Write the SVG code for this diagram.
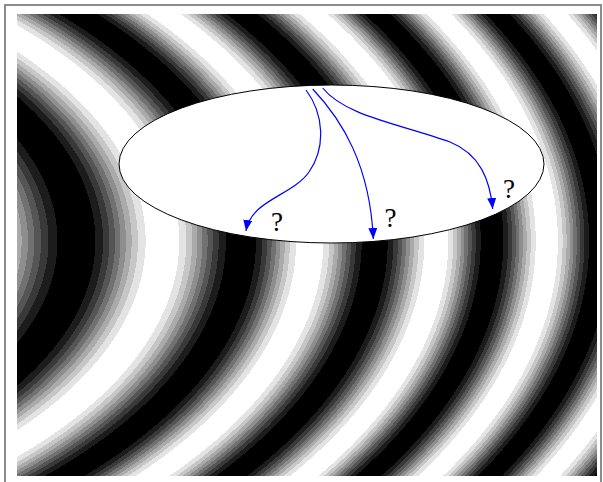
<svg xmlns="http://www.w3.org/2000/svg" width="603" height="482" viewBox="0 0 603 482">
<style>
.l0{stop-color:#000000}.l1{stop-color:#1c1c1c}.l2{stop-color:#393939}.l3{stop-color:#555555}.l4{stop-color:#717171}
.l5{stop-color:#8e8e8e}.l6{stop-color:#aaaaaa}.l7{stop-color:#c6c6c6}.l8{stop-color:#e3e3e3}.l9{stop-color:#ffffff}
.frame{fill:none;stroke:#8c8c8c;stroke-width:2}
.arrow{fill:none;stroke:#0000ff;stroke-width:1.2;marker-end:url(#ah)}
.q{font-family:"Liberation Serif","DejaVu Serif",serif;font-size:27px;fill:#000;text-anchor:middle}
</style>
<defs>
<marker id="ah" markerUnits="userSpaceOnUse" viewBox="0 0 11 9" refX="11" refY="4.5" markerWidth="11" markerHeight="9" orient="auto">
<path d="M0,0 L11,4.5 L0,9 z" fill="#0000ff"/>
</marker>
<radialGradient id="waves" gradientUnits="userSpaceOnUse" cx="-500" cy="241" r="1250" fx="-500" fy="241" gradientTransform="matrix(1 0 0 0.49 0 122.91)">
<stop offset="0" class="l9"/>
<stop offset=".3988" class="l9"/><stop offset=".3988" class="l8"/>
<stop offset=".406" class="l8"/><stop offset=".406" class="l7"/>
<stop offset=".41192" class="l7"/><stop offset=".41192" class="l6"/>
<stop offset=".41728" class="l6"/><stop offset=".41728" class="l5"/>
<stop offset=".4224" class="l5"/><stop offset=".4224" class="l4"/>
<stop offset=".42752" class="l4"/><stop offset=".42752" class="l3"/>
<stop offset=".43288" class="l3"/><stop offset=".43288" class="l2"/>
<stop offset=".4388" class="l2"/><stop offset=".4388" class="l1"/>
<stop offset=".446" class="l1"/><stop offset=".446" class="l0"/>
<stop offset=".47632" class="l0"/><stop offset=".47632" class="l1"/>
<stop offset=".48248" class="l1"/><stop offset=".48248" class="l2"/>
<stop offset=".48752" class="l2"/><stop offset=".48752" class="l3"/>
<stop offset=".49208" class="l3"/><stop offset=".49208" class="l4"/>
<stop offset=".4964" class="l4"/><stop offset=".4964" class="l5"/>
<stop offset=".50072" class="l5"/><stop offset=".50072" class="l6"/>
<stop offset=".50528" class="l6"/><stop offset=".50528" class="l7"/>
<stop offset=".51032" class="l7"/><stop offset=".51032" class="l8"/>
<stop offset=".51648" class="l8"/><stop offset=".51648" class="l9"/>
<stop offset=".54336" class="l9"/><stop offset=".54336" class="l8"/>
<stop offset=".54904" class="l8"/><stop offset=".54904" class="l7"/>
<stop offset=".55376" class="l7"/><stop offset=".55376" class="l6"/>
<stop offset=".55792" class="l6"/><stop offset=".55792" class="l5"/>
<stop offset=".562" class="l5"/><stop offset=".562" class="l4"/>
<stop offset=".56608" class="l4"/><stop offset=".56608" class="l3"/>
<stop offset=".57024" class="l3"/><stop offset=".57024" class="l2"/>
<stop offset=".57496" class="l2"/><stop offset=".57496" class="l1"/>
<stop offset=".58064" class="l1"/><stop offset=".58064" class="l0"/>
<stop offset=".60472" class="l0"/><stop offset=".60472" class="l1"/>
<stop offset=".60968" class="l1"/><stop offset=".60968" class="l2"/>
<stop offset=".61368" class="l2"/><stop offset=".61368" class="l3"/>
<stop offset=".61728" class="l3"/><stop offset=".61728" class="l4"/>
<stop offset=".6208" class="l4"/><stop offset=".6208" class="l5"/>
<stop offset=".62432" class="l5"/><stop offset=".62432" class="l6"/>
<stop offset=".62792" class="l6"/><stop offset=".62792" class="l7"/>
<stop offset=".63192" class="l7"/><stop offset=".63192" class="l8"/>
<stop offset=".63688" class="l8"/><stop offset=".63688" class="l9"/>
<stop offset=".65864" class="l9"/><stop offset=".65864" class="l8"/>
<stop offset=".66336" class="l8"/><stop offset=".66336" class="l7"/>
<stop offset=".6672" class="l7"/><stop offset=".6672" class="l6"/>
<stop offset=".67064" class="l6"/><stop offset=".67064" class="l5"/>
<stop offset=".674" class="l5"/><stop offset=".674" class="l4"/>
<stop offset=".67736" class="l4"/><stop offset=".67736" class="l3"/>
<stop offset=".6808" class="l3"/><stop offset=".6808" class="l2"/>
<stop offset=".68464" class="l2"/><stop offset=".68464" class="l1"/>
<stop offset=".68936" class="l1"/><stop offset=".68936" class="l0"/>
<stop offset=".71016" class="l0"/><stop offset=".71016" class="l1"/>
<stop offset=".71464" class="l1"/><stop offset=".71464" class="l2"/>
<stop offset=".71832" class="l2"/><stop offset=".71832" class="l3"/>
<stop offset=".7216" class="l3"/><stop offset=".7216" class="l4"/>
<stop offset=".7248" class="l4"/><stop offset=".7248" class="l5"/>
<stop offset=".728" class="l5"/><stop offset=".728" class="l6"/>
<stop offset=".73128" class="l6"/><stop offset=".73128" class="l7"/>
<stop offset=".73496" class="l7"/><stop offset=".73496" class="l8"/>
<stop offset=".73944" class="l8"/><stop offset=".73944" class="l9"/>
<stop offset=".75864" class="l9"/><stop offset=".75864" class="l8"/>
<stop offset=".76256" class="l8"/><stop offset=".76256" class="l7"/>
<stop offset=".76584" class="l7"/><stop offset=".76584" class="l6"/>
<stop offset=".7688" class="l6"/><stop offset=".7688" class="l5"/>
<stop offset=".7716" class="l5"/><stop offset=".7716" class="l4"/>
<stop offset=".7744" class="l4"/><stop offset=".7744" class="l3"/>
<stop offset=".77736" class="l3"/><stop offset=".77736" class="l2"/>
<stop offset=".78064" class="l2"/><stop offset=".78064" class="l1"/>
<stop offset=".78456" class="l1"/><stop offset=".78456" class="l0"/>
<stop offset=".80264" class="l0"/><stop offset=".80264" class="l1"/>
<stop offset=".80656" class="l1"/><stop offset=".80656" class="l2"/>
<stop offset=".80984" class="l2"/><stop offset=".80984" class="l3"/>
<stop offset=".8128" class="l3"/><stop offset=".8128" class="l4"/>
<stop offset=".8156" class="l4"/><stop offset=".8156" class="l5"/>
<stop offset=".8184" class="l5"/><stop offset=".8184" class="l6"/>
<stop offset=".82136" class="l6"/><stop offset=".82136" class="l7"/>
<stop offset=".82464" class="l7"/><stop offset=".82464" class="l8"/>
<stop offset=".82856" class="l8"/><stop offset=".82856" class="l9"/>
<stop offset=".84632" class="l9"/><stop offset=".84632" class="l8"/>
<stop offset=".85008" class="l8"/><stop offset=".85008" class="l7"/>
<stop offset=".85328" class="l7"/><stop offset=".85328" class="l6"/>
<stop offset=".85608" class="l6"/><stop offset=".85608" class="l5"/>
<stop offset=".8588" class="l5"/><stop offset=".8588" class="l4"/>
<stop offset=".86152" class="l4"/><stop offset=".86152" class="l3"/>
<stop offset=".86432" class="l3"/><stop offset=".86432" class="l2"/>
<stop offset=".86752" class="l2"/><stop offset=".86752" class="l1"/>
<stop offset=".87128" class="l1"/><stop offset=".87128" class="l0"/>
<stop offset=".88872" class="l0"/><stop offset=".88872" class="l1"/>
<stop offset=".89248" class="l1"/><stop offset=".89248" class="l2"/>
<stop offset=".89568" class="l2"/><stop offset=".89568" class="l3"/>
<stop offset=".89848" class="l3"/><stop offset=".89848" class="l4"/>
<stop offset=".9012" class="l4"/><stop offset=".9012" class="l5"/>
<stop offset=".90392" class="l5"/><stop offset=".90392" class="l6"/>
<stop offset=".90672" class="l6"/><stop offset=".90672" class="l7"/>
<stop offset=".90992" class="l7"/><stop offset=".90992" class="l8"/>
<stop offset=".91368" class="l8"/><stop offset=".91368" class="l9"/>
<stop offset=".93088" class="l9"/><stop offset=".93088" class="l8"/>
<stop offset=".93472" class="l8"/><stop offset=".93472" class="l7"/>
<stop offset=".93776" class="l7"/><stop offset=".93776" class="l6"/>
<stop offset=".94056" class="l6"/><stop offset=".94056" class="l5"/>
<stop offset=".9432" class="l5"/><stop offset=".9432" class="l4"/>
<stop offset=".94584" class="l4"/><stop offset=".94584" class="l3"/>
<stop offset=".94864" class="l3"/><stop offset=".94864" class="l2"/>
<stop offset=".95168" class="l2"/><stop offset=".95168" class="l1"/>
<stop offset=".95544" class="l1"/><stop offset=".95544" class="l0"/>
<stop offset="1" class="l0"/>
</radialGradient>
</defs>
<rect width="603" height="482" fill="#ffffff"/>
<rect class="frame" x="5" y="5" width="596" height="490"/>
<g id="wave-field">
<rect x="17" y="14" width="580" height="462" fill="url(#waves)"/>
</g>
<g id="region">
<ellipse cx="331.5" cy="164" rx="212.5" ry="79" fill="#ffffff" stroke="#000000" stroke-width="1"/>
</g>
<g id="connectors">
<path class="arrow" d="M306,90 C324,114 326,148 309,172 C292,196 251,200 246,231"/>
<path class="arrow" d="M312.7,89 C342,120 370,165 373.3,239"/>
<path class="arrow" d="M322.7,88 C345,116 400,124 450,142 C480,154 490,180 492.7,209"/>
</g>
<g id="labels">
<text class="q" x="277" y="231">?</text>
<text class="q" x="390.5" y="227">?</text>
<text class="q" x="509" y="198">?</text>
</g>
</svg>
